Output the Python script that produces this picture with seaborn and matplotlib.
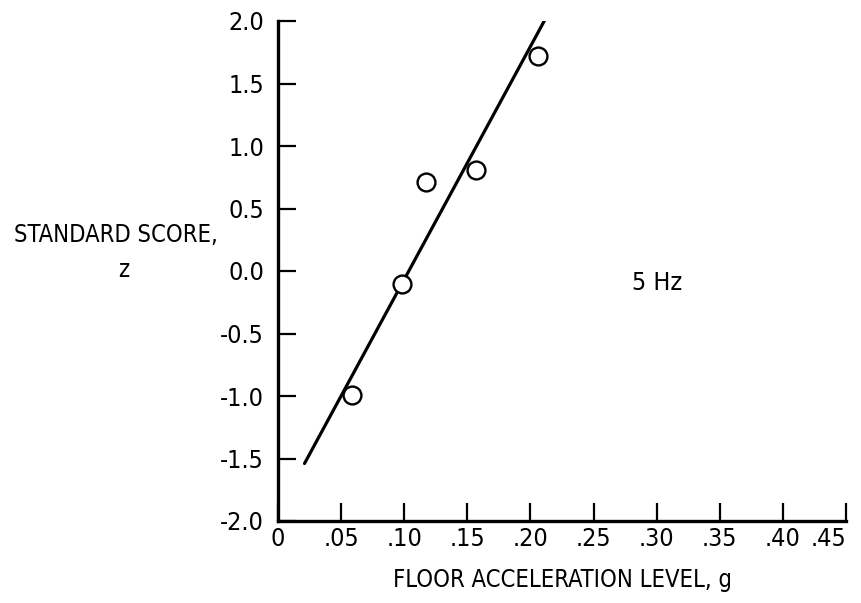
import matplotlib
matplotlib.use("Agg")
import matplotlib.pyplot as plt
import seaborn as sns
import pandas as pd

# data
accel = [0.059, 0.098, 0.117, 0.157, 0.206]
zscore = [-0.99, -0.10, 0.71, 0.81, 1.72]
fit_x = [0.021, 0.212]
fit_y = [-1.54, 2.02]
xticks = [0.0, 0.05, 0.10, 0.15, 0.20, 0.25, 0.30, 0.35, 0.40, 0.45]
xticklabels = ["0", ".05", ".10", ".15", ".20", ".25", ".30", ".35", ".40", ".45"]
yticks = [2.0, 1.5, 1.0, 0.5, 0.0, -0.5, -1.0, -1.5, -2.0]
yticklabels = ["2.0", "1.5", "1.0", "0.5", "0.0", "-0.5", "-1.0", "-1.5", "-2.0"]

sns.set_theme(style="white")
plt.rcParams['font.family'] = ['DejaVu Sans']
plt.rcParams['font.stretch'] = 'condensed'

W, H = 861, 603
fig = plt.figure(figsize=(W / 100, H / 100), dpi=100)
L, R, T, B = 278, 846, 21, 521
ax = fig.add_axes([L / W, 1 - B / H, (R - L) / W, (B - T) / H])

pts = pd.DataFrame({"x": accel, "y": zscore})
fit = pd.DataFrame({"x": fit_x, "y": fit_y})
sns.lineplot(data=fit, x="x", y="y", ax=ax, color="black", linewidth=2.3)
sns.scatterplot(data=pts, x="x", y="y", ax=ax, s=165, facecolor="white",
                edgecolor="black", linewidth=1.7, zorder=5)

ax.set_xlim(0, 0.45)
ax.set_ylim(-2.0, 2.0)
ax.set_xticks(xticks)
ax.set_xticklabels(xticklabels)
ax.set_yticks(yticks)
ax.set_yticklabels(yticklabels)
ax.set_xlabel("")
ax.set_ylabel("")
for s in ["top", "right"]:
    ax.spines[s].set_visible(False)
for s in ["left", "bottom"]:
    ax.spines[s].set_color("black")
    ax.spines[s].set_linewidth(2.4)
ax.tick_params(axis="both", direction="in", length=13, width=1.6, color="black",
               labelsize=18, labelcolor="black", bottom=True, left=True)
ax.tick_params(axis="y", pad=10)
ax.tick_params(axis="x", pad=4)
ax.patch.set_alpha(0)
for lab in ax.get_xticklabels()[-1:]:
    lab.set_horizontalalignment("right")

ax.text(0.2805, -0.095, "5 Hz", ha="left", va="center", fontsize=18, color="black")
fig.text((L + R) / 2 / W, 1 - 580 / H, "FLOOR ACCELERATION LEVEL, g", ha="center",
         va="center", fontsize=17, color="black")
fig.text(116 / W, 1 - 235 / H, "STANDARD SCORE,", ha="center", va="center",
         fontsize=17, color="black")
fig.text(124 / W, 1 - 270 / H, "z", ha="center", va="center", fontsize=17, color="black")

fig.savefig("out.png", dpi=100)
